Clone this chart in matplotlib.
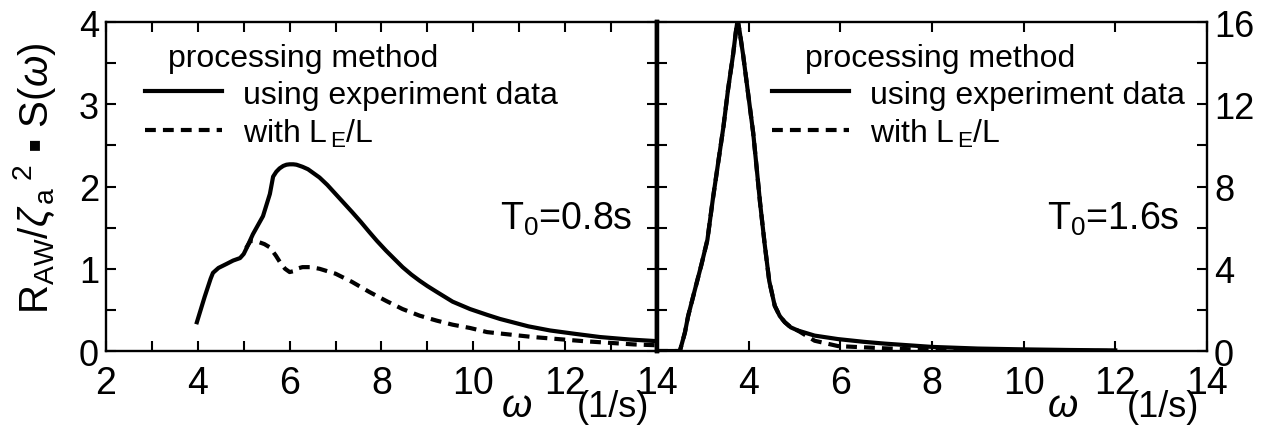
import matplotlib
matplotlib.use("Agg")
import matplotlib.pyplot as plt
from matplotlib.ticker import MultipleLocator, FixedLocator
from matplotlib.lines import Line2D

plt.rcParams['font.family'] = ['Liberation Sans', 'DejaVu Sans']
plt.rcParams['mathtext.fontset'] = 'custom'
plt.rcParams['mathtext.rm'] = 'Liberation Sans'
plt.rcParams['mathtext.it'] = 'Liberation Sans:italic'
plt.rcParams['mathtext.bf'] = 'Liberation Sans:bold'

# ---- T0 = 0.8 s ----
omega_08 = [3.98, 4.15, 4.28, 4.33, 4.45, 4.63, 4.77, 4.92, 5.00, 5.07, 5.20,
            5.42, 5.57, 5.64, 5.71, 5.78, 5.86, 5.93, 6.00, 6.08, 6.15, 6.28,
            6.40, 6.65, 6.82, 7.00, 7.18, 7.36, 7.55, 7.73, 7.90, 8.10, 8.28,
            8.46, 8.65, 8.83, 9.00, 9.20, 9.55, 9.93, 10.30, 10.58, 11.20,
            11.67, 12.20, 12.76, 13.40, 14.00]
raw_exp_08 = [0.35, 0.66, 0.88, 0.95, 1.01, 1.06, 1.10, 1.13, 1.18, 1.26, 1.42,
              1.64, 1.91, 2.12, 2.18, 2.22, 2.25, 2.265, 2.27, 2.27, 2.265, 2.24,
              2.21, 2.11, 2.02, 1.91, 1.80, 1.69, 1.57, 1.45, 1.34, 1.22, 1.12,
              1.02, 0.93, 0.855, 0.79, 0.72, 0.60, 0.51, 0.44, 0.39, 0.30,
              0.25, 0.21, 0.17, 0.14, 0.12]
omega_08_le = [5.05, 5.15, 5.30, 5.45, 5.57, 5.70, 5.79, 5.90, 6.00, 6.08, 6.15,
               6.28, 6.45, 6.65, 7.00, 7.36, 7.73, 8.10, 8.46, 8.83, 9.20, 9.55,
               9.93, 10.30, 11.30, 12.40, 13.50, 14.00]
raw_le_08 = [1.25, 1.34, 1.33, 1.30, 1.26, 1.16, 1.08, 1.00, 0.96, 0.97, 1.00,
             1.02, 1.02, 1.00, 0.94, 0.84, 0.72, 0.61, 0.51, 0.43, 0.37, 0.32,
             0.28, 0.23, 0.17, 0.12, 0.08, 0.07]

# ---- T0 = 1.6 s ----
omega_16 = [2.00, 2.50, 2.61, 2.68, 2.83, 2.97, 3.10, 3.22, 3.45, 3.55, 3.66,
            3.72, 3.76, 3.80, 3.88, 3.99, 4.10, 4.18, 4.25, 4.35, 4.45, 4.57,
            4.68, 4.79, 4.92, 5.07, 5.44, 5.95, 6.50, 6.97, 8.00, 9.00, 10.00,
            11.00, 12.00]
raw_exp_16 = [0.0, 0.0, 0.9, 1.7, 3.0, 4.2, 5.4, 7.4, 10.9, 12.7, 14.4,
              15.5, 16.1, 15.6, 14.4, 12.5, 10.6, 8.8, 7.2, 5.2, 3.4, 2.2,
              1.7, 1.4, 1.15, 1.0, 0.75, 0.58, 0.45, 0.36, 0.20, 0.12, 0.08,
              0.05, 0.03]
omega_16_le = [2.00, 2.50, 2.61, 2.68, 2.83, 2.97, 3.10, 3.22, 3.45, 3.55, 3.66,
               3.72, 3.76, 3.80, 3.88, 3.99, 4.10, 4.18, 4.25, 4.35, 4.45, 4.57,
               4.68, 4.79, 4.92, 5.07, 5.44, 5.95, 6.97, 8.00, 9.00, 10.00, 12.00]
raw_le_16 = [0.0, 0.0, 0.9, 1.7, 3.0, 4.2, 5.4, 7.4, 10.9, 12.7, 14.4,
             15.5, 16.1, 15.6, 14.4, 12.5, 10.6, 8.8, 7.2, 5.2, 3.4, 2.2,
             1.7, 1.4, 1.15, 1.0, 0.5, 0.24, 0.13, 0.05, 0.02, 0.01, 0.0]

x_ticks_left = [2, 4, 6, 8, 10, 12, 14]
x_ticks_right = [4, 6, 8, 10, 12, 14]
series_labels = ["using experiment data", r"with L$_{\,\mathrm{E}}$/L"]
legend_title = "processing method"
period_labels = [r"T$_0$=0.8s", r"T$_0$=1.6s"]

LW = 3.0
DASH = (2.6, 1.7)
SPINE = 1.7
TICK = dict(direction='in', length=7.5, width=1.5)

fig = plt.figure(figsize=(12.69, 4.27), dpi=100)
ax1 = fig.add_axes([0.0835, 0.1756, 0.4342, 0.7705])
ax2 = fig.add_axes([0.5177, 0.1756, 0.4334, 0.7705])

for ax in (ax1, ax2):
    for s in ax.spines.values():
        s.set_linewidth(SPINE)
    ax.set_xlim(2, 14)
ax1.spines['right'].set_linewidth(3.2)
ax2.spines['left'].set_linewidth(3.2)

# left panel
ax1.plot(omega_08, raw_exp_08, color='black', lw=LW, solid_joinstyle='round')
ax1.plot(omega_08_le, raw_le_08, color='black', lw=LW, dashes=DASH)
ax1.set_ylim(0, 4)
ax1.xaxis.set_major_locator(FixedLocator(x_ticks_left))
ax1.xaxis.set_minor_locator(MultipleLocator(1))
ax1.yaxis.set_major_locator(MultipleLocator(1))
ax1.yaxis.set_minor_locator(MultipleLocator(0.5))
ax1.tick_params(which='both', top=True, right=True, **TICK)
ax1.tick_params(axis='x', which='major', labelsize=27, pad=10)
ax1.tick_params(axis='y', which='major', labelsize=26, pad=5)

# right panel
ax2.plot(omega_16, raw_exp_16, color='black', lw=LW, solid_joinstyle='round')
ax2.plot(omega_16_le, raw_le_16, color='black', lw=LW, dashes=DASH)
ax2.set_ylim(0, 16)
ax2.xaxis.set_major_locator(FixedLocator(x_ticks_right))
ax2.yaxis.set_major_locator(MultipleLocator(4))
ax2.yaxis.set_minor_locator(MultipleLocator(2))
ax2.tick_params(which='both', top=True, left=True, right=True,
                labelleft=False, labelright=True, **TICK)
ax2.tick_params(axis='x', which='major', labelsize=27, pad=10)
ax2.tick_params(axis='y', which='major', labelsize=26, pad=5)

# legends, period labels, axis labels
handles = [Line2D([], [], color='black', lw=LW),
           Line2D([], [], color='black', lw=LW, dashes=DASH)]
for ax, hx, tx, px, plabel in ((ax1, 0.0708, 0.1125, 0.715, period_labels[0]),
                               (ax2, 0.209, 0.269, 0.709, period_labels[1])):
    ax.legend(handles, series_labels, loc='upper left', bbox_to_anchor=(hx, 0.825),
              frameon=False, borderpad=0, borderaxespad=0, fontsize=23,
              handlelength=2.41, handletextpad=0.66, labelspacing=0.22)
    ax.text(tx, 0.866, legend_title, transform=ax.transAxes, fontsize=23,
            ha='left', va='baseline')
    ax.text(px, 0.371, plabel, transform=ax.transAxes, fontsize=27,
            ha='left', va='baseline')

for ax, wx in ((ax1, 0.746), (ax2, 0.738)):
    ax.text(wx, -0.198, r"$\omega$", transform=ax.transAxes, fontsize=28,
            ha='center', va='baseline')
    ax.text(0.92, -0.198, "(1/s)", transform=ax.transAxes, fontsize=26,
            ha='center', va='baseline')

fig.text(0.027, 0.583,
         r"R$_{\mathrm{AW}}$/$\zeta_{\,\mathrm{a}}{}^{\;\mathrm{2}}$ ▪ S($\omega$)",
         rotation=90, fontsize=29, ha='center', va='center')

fig.savefig("out.png", dpi=100)
